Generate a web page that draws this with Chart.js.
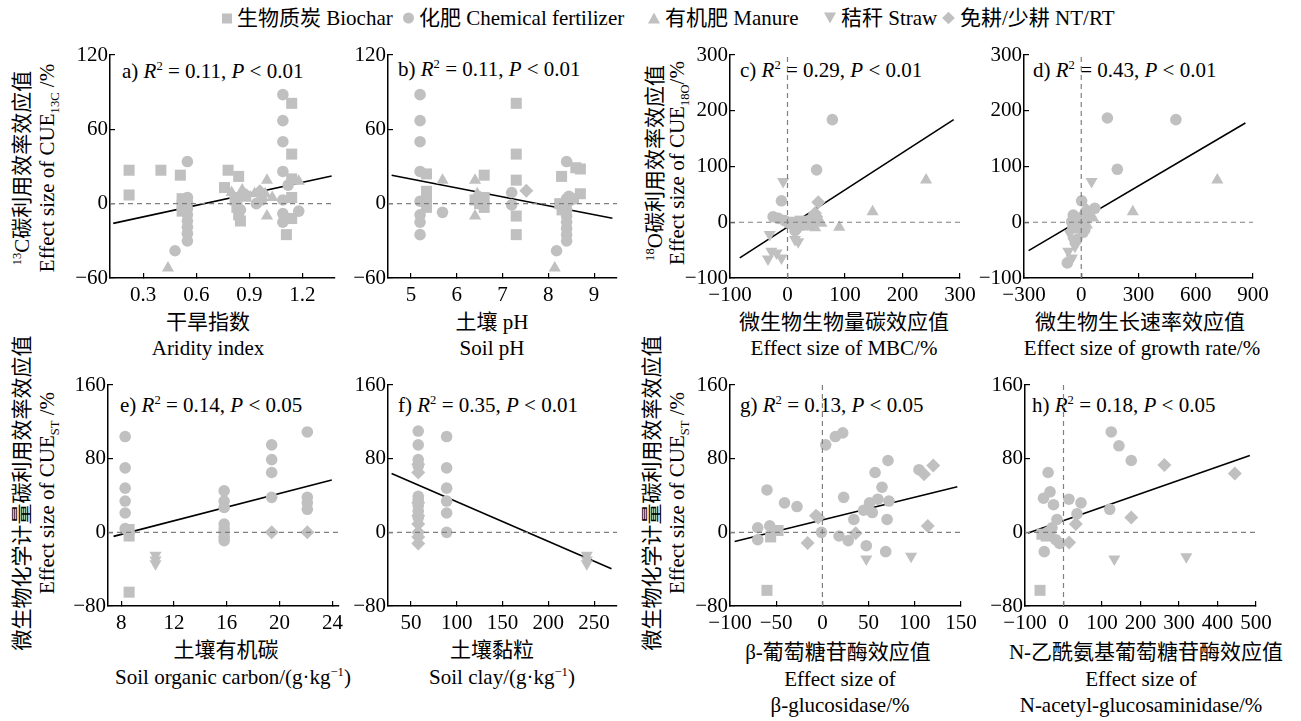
<!DOCTYPE html>
<html><head><meta charset="utf-8">
<script src="https://cdn.jsdelivr.net/npm/chart.js@4.4.0/dist/chart.umd.min.js"></script>
<style>
body{margin:0;width:1301px;height:721px;background:#fff;overflow:hidden;position:relative;font-family:"Liberation Serif","Times New Roman","Noto Sans CJK SC",serif;color:#000}
canvas{position:absolute;left:0;top:0}
.t{position:absolute;white-space:nowrap;font-size:21px;line-height:1;transform:translate(-50%,-50%)}
.r{transform:translate(-50%,-50%) rotate(-90deg)}
.ann{position:absolute;white-space:nowrap;font-size:21px;line-height:1;transform:translateY(-50%)}
.ann i{font-style:italic}
sup,sub{font-size:0.6em;line-height:0}
.lg{position:absolute;top:18px;transform:translateY(-50%);white-space:nowrap;font-size:21px;line-height:1;display:flex;align-items:center}
.sym{display:inline-block;margin-right:5px}
.sq{width:10px;height:10px;background:#c0c0c0}
.ci{width:11px;height:11px;border-radius:50%;background:#c0c0c0}
.tu{width:0;height:0;border-left:6px solid transparent;border-right:6px solid transparent;border-bottom:11px solid #c0c0c0}
.td{width:0;height:0;border-left:6px solid transparent;border-right:6px solid transparent;border-top:11px solid #c0c0c0}
.di{width:9px;height:9px;background:#c0c0c0;transform:rotate(45deg);margin-left:2px;margin-right:7px}
</style></head><body>
<div class="lg" style="left:222px"><span class="sym sq"></span>生物质炭 Biochar</div>
<div class="lg" style="left:403px"><span class="sym ci"></span>化肥 Chemical fertilizer</div>
<div class="lg" style="left:648px"><span class="sym tu"></span>有机肥 Manure</div>
<div class="lg" style="left:824px"><span class="sym td"></span>秸秆 Straw</div>
<div class="lg" style="left:942px"><span class="sym di"></span>免耕/少耕 NT/RT</div>

<div class="t r" style="left:22px;top:168px"><sup>13</sup>C碳利用效率效应值</div>
<div class="t r" style="left:47px;top:168px">Effect size of CUE<sub>13C</sub> /%</div>
<div class="t r" style="left:655px;top:163px"><sup>18</sup>O碳利用效率效应值</div>
<div class="t r" style="left:677px;top:163px">Effect size of CUE<sub>18O</sub>/%</div>
<div class="t r" style="left:22px;top:493px">微生物化学计量碳利用效率效应值</div>
<div class="t r" style="left:47px;top:493px">Effect size of CUE<sub>ST</sub> /%</div>
<div class="t r" style="left:652px;top:493px">微生物化学计量碳利用效率效应值</div>
<div class="t r" style="left:677px;top:493px">Effect size of CUE<sub>ST</sub> /%</div>

<div class="t" style="left:208px;top:322px">干旱指数</div>
<div class="t" style="left:208px;top:348px">Aridity index</div>
<div class="t" style="left:492px;top:322px">土壤 pH</div>
<div class="t" style="left:492px;top:348px">Soil pH</div>
<div class="t" style="left:844px;top:322px">微生物生物量碳效应值</div>
<div class="t" style="left:844px;top:348px">Effect size of MBC/%</div>
<div class="t" style="left:1140px;top:322px">微生物生长速率效应值</div>
<div class="t" style="left:1142px;top:348px">Effect size of growth rate/%</div>
<div class="t" style="left:226px;top:650px">土壤有机碳</div>
<div class="t" style="left:233px;top:677px">Soil organic carbon/(g·kg<sup>−1</sup>)</div>
<div class="t" style="left:492px;top:650px">土壤黏粒</div>
<div class="t" style="left:502px;top:677px">Soil clay/(g·kg<sup>−1</sup>)</div>
<div class="t" style="left:838px;top:652px">β-葡萄糖苷酶效应值</div>
<div class="t" style="left:840px;top:679px">Effect size of</div>
<div class="t" style="left:840px;top:705px">β-glucosidase/%</div>
<div class="t" style="left:1146px;top:652px">N-乙酰氨基葡萄糖苷酶效应值</div>
<div class="t" style="left:1141px;top:679px">Effect size of</div>
<div class="t" style="left:1141px;top:705px">N-acetyl-glucosaminidase/%</div>

<div class="ann" style="left:122px;top:71px">a) <i>R</i><sup>2</sup> = 0.11, <i>P</i> &lt; 0.01</div>
<div class="ann" style="left:398px;top:69px">b) <i>R</i><sup>2</sup> = 0.11, <i>P</i> &lt; 0.01</div>
<div class="ann" style="left:740px;top:70px">c) <i>R</i><sup>2</sup> = 0.29, <i>P</i> &lt; 0.01</div>
<div class="ann" style="left:1033px;top:70px">d) <i>R</i><sup>2</sup> = 0.43, <i>P</i> &lt; 0.01</div>
<div class="ann" style="left:120px;top:405px">e) <i>R</i><sup>2</sup> = 0.14, <i>P</i> &lt; 0.05</div>
<div class="ann" style="left:398px;top:405px">f) <i>R</i><sup>2</sup> = 0.35, <i>P</i> &lt; 0.01</div>
<div class="ann" style="left:740px;top:405px">g) <i>R</i><sup>2</sup> = 0.13, <i>P</i> &lt; 0.05</div>
<div class="ann" style="left:1032px;top:405px">h) <i>R</i><sup>2</sup> = 0.18, <i>P</i> &lt; 0.05</div>

<script>
// ---------- data ----------
const seriesNames = ['生物质炭 Biochar','化肥 Chemical fertilizer','有机肥 Manure','秸秆 Straw','免耕/少耕 NT/RT'];

// a) Aridity index
const aBiochar = [[0.22,27],[0.22,7],[0.40,27],[0.51,23],[0.52,4],[0.52,-1],[0.52,-6],[0.78,27],[0.84,22],[0.76,13],[0.82,3],[0.83,-3],[0.84,-9],[0.85,-14],[0.88,6],[1.14,81],[1.14,40],[1.14,20],[1.14,5],[1.14,-12],[1.11,-25]];
const aFert = [[0.55,34],[0.48,-38],[0.55,5],[0.55,1],[0.55,-4],[0.55,-9],[0.55,-14],[0.55,-19],[0.55,-24],[0.55,-30],[1.09,88],[1.09,67],[1.09,50],[1.09,26],[1.09,3],[1.09,-8],[1.09,-15],[1.18,-6],[0.94,0],[0.82,5],[0.87,8],[0.97,3],[1.12,15],[0.85,-5]];
const aManure = [[0.44,-52],[1.0,19],[1.0,-10],[1.18,18],[0.99,8],[0.93,8],[0.86,11],[0.80,9],[1.03,5]];
const aStraw = [];
const aNT = [[0.96,10]];
const aTrend = [[0.13,-15.9],[1.366,22.4]];
const aXTicks = [0.3,0.6,0.9,1.2];
const aYTicks = [-60,0,60,120];

// b) Soil pH
const bBiochar = [[5.34,24],[5.34,10],[5.34,2],[5.34,-3],[6.6,23],[6.6,5],[6.6,-3],[6.4,3],[6.5,0],[7.3,81],[7.3,40],[7.3,19],[7.3,-10],[7.3,-25],[8.29,22],[8.25,0],[8.6,29],[8.7,28],[8.7,8],[8.55,4],[8.3,-5]];
const bFert = [[5.2,88],[5.2,67],[5.2,50],[5.2,26],[5.2,2],[5.2,-9],[5.2,-15],[5.2,-25],[5.69,-7],[7.2,9],[7.2,-1],[8.18,-38],[8.4,34],[8.4,4],[8.4,0],[8.4,-5],[8.4,-10],[8.4,-15],[8.4,-20],[8.4,-25],[8.4,-30],[8.5,3],[8.45,6]];
const bManure = [[5.69,19],[6.4,19],[6.4,-10],[8.14,-52],[6.45,8]];
const bStraw = [];
const bNT = [[7.52,10.5]];
const bTrend = [[4.58,23],[9.4,-11.8]];
const bXTicks = [5,6,7,8,9];
const bYTicks = [-60,0,60,120];

// c) MBC
const cBiochar = [[4,0],[22,2]];
const cFert = [[78,184],[50.6,94],[-10.5,38.5],[-25,10],[-16,7],[16,-11],[13,-15],[39,4],[27,-5],[-5,3],[5,-2]];
const cManure = [[241,76],[148,19],[90,-9],[59,-2],[40,-6],[48,-10],[30,-8]];
const cStraw = [[-7.6,73],[-31,-22],[-28,-52],[-34,-66],[-10.5,-64],[-19,-55],[18.6,-35],[13,-31]];
const cNT = [[53.5,36],[47.7,16],[50,10],[48,1],[35,-3]];
const cTrend = [[-83,-64],[289,184]];
const cXTicks = [-100,0,100,200,300];
const cYTicks = [-100,0,100,200,300];

// d) growth rate
const dBiochar = [[-45,-8],[-20,0]];
const dFert = [[137,187],[496,184],[189,95],[2,38.5],[-42,13],[-50,1],[19,-13],[71,25],[-7,4],[-73,-73],[-24,-31],[-30,-10],[10,-18]];
const dManure = [[713,76],[270,19],[62,7.5],[30,-5]];
const dStraw = [[54,73],[-68,-52],[-50,-64],[-33,-43],[-42,-34],[-16,-31],[-55,-68],[-60,-20]];
const dNT = [[28,22],[15,15],[40,10]];
const dTrend = [[-276,-51],[860,178]];
const dXTicks = [-300,0,300,600,900];
const dYTicks = [-100,0,100,200,300];

// e) SOC
const eBiochar = [[8.6,3],[8.6,-4],[8.6,-65]];
const eFert = [[8.3,104],[8.3,70],[8.3,48],[8.3,34],[8.3,21],[8.3,4],[15.8,45],[15.8,34],[15.8,27],[15.8,9],[15.8,4],[15.8,0],[15.8,-5],[15.8,-9],[19.4,95],[19.4,79],[19.4,65],[19.4,38],[22.1,109],[22.1,38],[22.1,32],[22.1,25]];
const eManure = [];
const eStraw = [[10.6,-25],[10.6,-30],[10.6,-34]];
const eNT = [[19.4,0],[22.1,0]];
const eTrend = [[7.42,-4.4],[23.95,56.8]];
const eXTicks = [8,12,16,20,24];
const eYTicks = [-80,0,80,160];

// f) clay
const fBiochar = [];
const fFert = [[58,110],[58,95],[58,79],[58,72],[58,39],[58,35],[58,29],[58,23],[58,16],[89,104],[89,70],[89,48],[89,34],[89,21],[89,0]];
const fManure = [];
const fStraw = [[242,-25],[242,-30],[242,-34]];
const fNT = [[58,65],[58,74],[58,9],[58,0],[58,-5],[58,-12],[58,18],[58,32]];
const fTrend = [[28.9,64],[269,-39.6]];
const fXTicks = [50,100,150,200,250];
const fYTicks = [-80,0,80,160];

// g) beta-glucosidase
const gBiochar = [[-60,-63],[-56,-5],[-48,2]];
const gFert = [[-70,5],[-70,-8],[-60,46],[-57,7],[-41,32],[-27.5,28],[3.6,95],[14,104],[22,108],[-1,0],[23,38],[18,-4],[28,-9],[34,14],[44.5,24],[47.5,-14.5],[51,32],[54,21.5],[57,65],[60,36],[64.5,49],[71,78],[70,14],[68.5,-21],[72,34],[104.5,68]];
const gManure = [];
const gStraw = [[47.5,-29],[96,-26]];
const gNT = [[-16,-11.6],[-7,18],[-4.5,16],[36,-1],[110,63],[120,72.6],[114,7]];
const gTrend = [[-95,-10],[146,49.6]];
const gXTicks = [-100,-50,0,50,100,150];
const gYTicks = [-80,0,80,160];

// h) NAG
const hBiochar = [[-61,-63],[-56,-2],[-45,-4],[-35,0]];
const hFert = [[124,109],[144,94],[176,78],[-40,65],[-35,44],[-52,37],[-26,30],[14,36],[45.5,32],[120,25],[-17,14],[35,20],[-50,-21],[-30,5],[-20,-8],[-10,-12],[-40,0]];
const hManure = [];
const hStraw = [[132,-29],[319,-26.5]];
const hNT = [[262,73],[445,64],[176,16],[14.6,-11],[32,9]];
const hTrend = [[-92,-0.8],[484,83.4]];
const hXTicks = [-100,0,100,200,300,400,500];
const hYTicks = [-80,0,80,160];

// ---------- drawing ----------
Chart.defaults.font.family = '"Liberation Serif", "Times New Roman", serif';
Chart.defaults.font.size = 21;
Chart.defaults.color = '#000';
const GRAY = '#c0c0c0';
const YW = 60, XH = 40;
const styles = [
  {pointStyle:'rect', r:7.8, rot:0},
  {pointStyle:'circle', r:5.8, rot:0},
  {pointStyle:'triangle', r:7, rot:0},
  {pointStyle:'triangle', r:7, rot:180},
  {pointStyle:'rectRot', r:7, rot:0}
];
const fmt = v => String(Number(Number(v).toFixed(2))).replace('-', '\u2212');
const toXY = arr => arr.map(p => ({x:p[0], y:p[1]}));

function panel(area, xr, yr, series, trend, vline){
  const cv = document.createElement('canvas');
  cv.width = 1301; cv.height = 721;
  cv.style.width = '1301px'; cv.style.height = '721px';
  document.body.appendChild(cv);
  const ds = [];
  ds.push({data:[{x:xr.min,y:0},{x:xr.max,y:0}], showLine:true, borderColor:'#808080', borderWidth:1.2, borderDash:[5,4], pointRadius:0});
  if (vline) ds.push({data:[{x:0,y:yr.min},{x:0,y:yr.max}], showLine:true, borderColor:'#808080', borderWidth:1.2, borderDash:[5,4], pointRadius:0});
  series.forEach((s,i) => {
    const st = styles[i];
    ds.push({label:seriesNames[i], data:toXY(s), pointStyle:st.pointStyle, rotation:st.rot, pointRadius:st.r,
      pointBackgroundColor:GRAY, pointBorderWidth:0, borderColor:GRAY, showLine:false});
  });
  ds.push({data:toXY(trend), showLine:true, borderColor:'#000', borderWidth:1.6, pointRadius:0});
  const axisCommon = {
    type:'linear',
    grid:{display:true, drawOnChartArea:false, drawTicks:true, tickLength:-5, color:'#000', lineWidth:1.2},
    border:{display:true, color:'#000', width:1.5},
  };
  new Chart(cv, {
    type:'scatter',
    data:{datasets:ds},
    options:{
      responsive:false, animation:false, events:[],
      plugins:{legend:{display:false}, tooltip:{enabled:false}},
      layout:{padding:{left:area.L-YW, top:area.T, right:1301-area.R, bottom:721-area.B-XH}},
      scales:{
        x:Object.assign({}, axisCommon, {min:xr.min, max:xr.max,
          afterBuildTicks:s => { s.ticks = xr.ticks.map(v => ({value:v})); },
          afterFit:s => { s.height = XH; },
          ticks:{autoSkip:false, maxRotation:0, minRotation:0, padding:10, callback:v => fmt(v)}}),
        y:Object.assign({}, axisCommon, {min:yr.min, max:yr.max,
          afterBuildTicks:s => { s.ticks = yr.ticks.map(v => ({value:v})); },
          afterFit:s => { s.width = YW; },
          ticks:{autoSkip:false, padding:7, callback:v => fmt(v)}})
      }
    }
  });
}

panel({L:110,R:335,T:55,B:278},{min:0.112,max:1.385,ticks:aXTicks},{min:-60,max:120,ticks:aYTicks},[aBiochar,aFert,aManure,aStraw,aNT],aTrend,false);
panel({L:388,R:617,T:55,B:278},{min:4.5,max:9.5,ticks:bXTicks},{min:-60,max:120,ticks:bYTicks},[bBiochar,bFert,bManure,bStraw,bNT],bTrend,false);
panel({L:730,R:960,T:55,B:278},{min:-100,max:300,ticks:cXTicks},{min:-100,max:300,ticks:cYTicks},[cBiochar,cFert,cManure,cStraw,cNT],cTrend,true);
panel({L:1024,R:1253,T:55,B:278},{min:-300,max:900,ticks:dXTicks},{min:-100,max:300,ticks:dYTicks},[dBiochar,dFert,dManure,dStraw,dNT],dTrend,true);
panel({L:108,R:339,T:385,B:606},{min:7,max:24.5,ticks:eXTicks},{min:-80,max:160,ticks:eYTicks},[eBiochar,eFert,eManure,eStraw,eNT],eTrend,false);
panel({L:388,R:617,T:385,B:606},{min:25,max:275,ticks:fXTicks},{min:-80,max:160,ticks:fYTicks},[fBiochar,fFert,fManure,fStraw,fNT],fTrend,false);
panel({L:730,R:961,T:385,B:606},{min:-100,max:150,ticks:gXTicks},{min:-80,max:160,ticks:gYTicks},[gBiochar,gFert,gManure,gStraw,gNT],gTrend,true);
panel({L:1025,R:1256,T:385,B:606},{min:-100,max:500,ticks:hXTicks},{min:-80,max:160,ticks:hYTicks},[hBiochar,hFert,hManure,hStraw,hNT],hTrend,true);
</script>
</body></html>
